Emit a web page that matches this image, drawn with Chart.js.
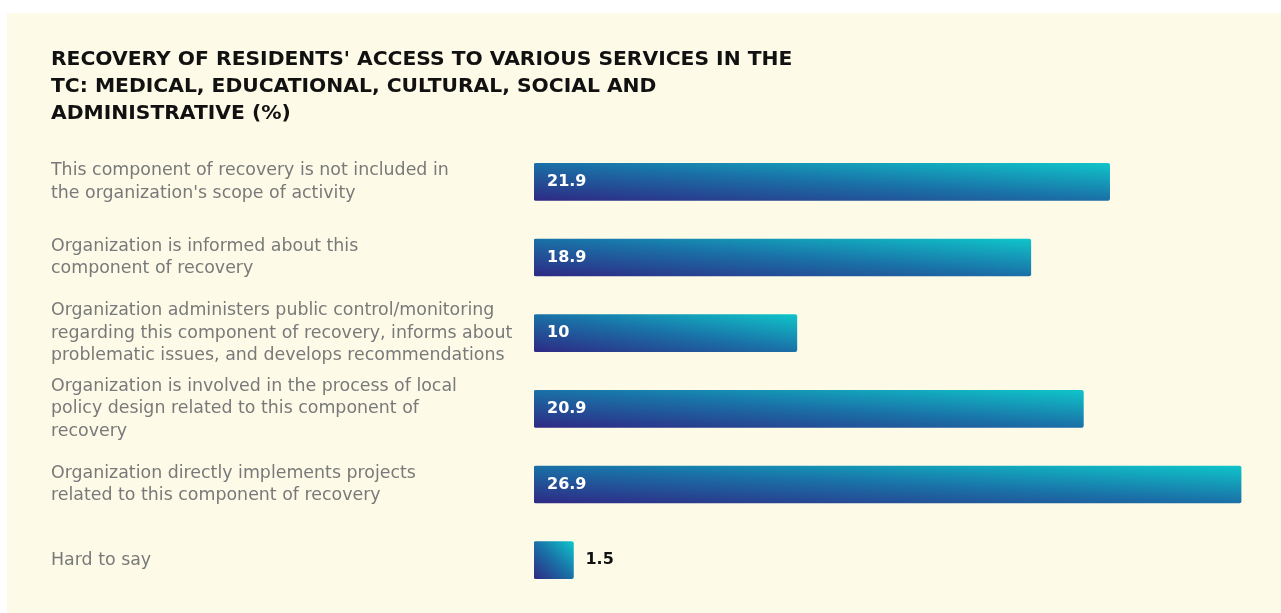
<!DOCTYPE html>
<html>
<head>
<meta charset="utf-8">
<script src="https://cdn.jsdelivr.net/npm/chart.js@4/dist/chart.umd.min.js"></script>
<style>
  body { margin: 0; background: #ffffff; }
  #panel { position: absolute; left: 7px; top: 13px; width: 1274px; height: 600px; background: #fdfbe8; }
</style>
</head>
<body>
<div id="panel"><canvas id="services-chart" width="1274" height="600"></canvas></div>
<script>
const titleLines = [
  "RECOVERY OF RESIDENTS' ACCESS TO VARIOUS SERVICES IN THE",
  "TC: MEDICAL, EDUCATIONAL, CULTURAL, SOCIAL AND",
  "ADMINISTRATIVE (%)"
];

const categories = [
  ["This component of recovery is not included in", "the organization's scope of activity"],
  ["Organization is informed about this", "component of recovery"],
  ["Organization administers public control/monitoring", "regarding this component of recovery, informs about", "problematic issues, and develops recommendations"],
  ["Organization is involved in the process of local", "policy design related to this component of", "recovery"],
  ["Organization directly implements projects", "related to this component of recovery"],
  ["Hard to say"]
];

const shares = [21.9, 18.9, 10, 20.9, 26.9, 1.5];

const BAR_THICKNESS = 37;

// diagonal gradient per bar: navy at bottom-left, cyan at top-right
function barGradient(context) {
  const chart = context.chart;
  const { chartArea, scales } = chart;
  if (!chartArea || context.type !== "data") return "#1a6fa6";
  const x0 = scales.x.getPixelForValue(0);
  const x1 = scales.x.getPixelForValue(context.raw);
  const yc = scales.y.getPixelForValue(context.dataIndex);
  const w = x1 - x0;
  const h = BAR_THICKNESS;
  const cx = x0 + w / 2;
  const k = (w * h) / (w * w + h * h);
  const g = chart.ctx.createLinearGradient(cx - k * h, yc + k * w, cx + k * h, yc - k * w);
  g.addColorStop(0, "#2e2a84");
  g.addColorStop(0.5, "#1a70a7");
  g.addColorStop(1, "#0fc4c9");
  return g;
}

// value labels: inside the bar in white, or after it in black when the bar is too short
const valueLabels = {
  id: "valueLabels",
  afterDatasetsDraw(chart) {
    const ctx = chart.ctx;
    const meta = chart.getDatasetMeta(0);
    ctx.save();
    ctx.font = "bold 16px 'DejaVu Sans'";
    ctx.textBaseline = "middle";
    ctx.textAlign = "left";
    meta.data.forEach((bar, i) => {
      const text = String(shares[i]);
      const tw = ctx.measureText(text).width;
      const barWidth = bar.x - bar.base;
      if (barWidth > tw + 26) {
        ctx.fillStyle = "#ffffff";
        ctx.fillText(text, bar.base + 13, bar.y);
      } else {
        ctx.fillStyle = "#111111";
        ctx.fillText(text, bar.x + 12, bar.y);
      }
    });
    ctx.restore();
  }
};

new Chart(document.getElementById("services-chart"), {
  type: "bar",
  data: {
    labels: categories,
    datasets: [{
      data: shares,
      backgroundColor: barGradient,
      borderWidth: 0,
      borderRadius: 2,
      borderSkipped: false,
      barThickness: BAR_THICKNESS
    }]
  },
  options: {
    indexAxis: "y",
    responsive: false,
    animation: false,
    layout: { padding: { left: 44, right: 11, top: 20, bottom: 15 } },
    plugins: {
      legend: { display: false },
      tooltip: { enabled: false },
      title: {
        display: true,
        text: titleLines,
        align: "start",
        color: "#111111",
        font: { family: "'DejaVu Sans'", size: 20.3, weight: "bold", lineHeight: 1.33 },
        padding: { top: 13, bottom: 17 }
      }
    },
    scales: {
      x: { display: false, min: 0, max: 28 },
      y: {
        grid: { display: false },
        border: { display: false },
        afterFit(scale) {
          scale.width = 483;
          // labels sit inside their bands, no extra room needed above/below
          scale.paddingTop = 0;
          scale.paddingBottom = 0;
        },
        ticks: {
          crossAlign: "far",
          color: "#797979",
          font: { family: "'DejaVu Sans'", size: 17.4, lineHeight: 1.3 }
        }
      }
    }
  },
  plugins: [valueLabels]
});
</script>
</body>
</html>
